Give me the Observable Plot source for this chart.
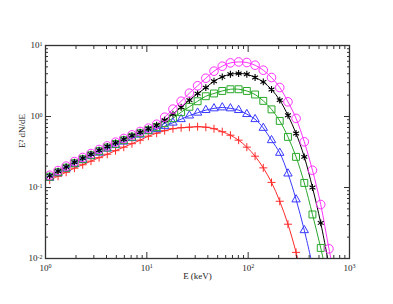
<!DOCTYPE html>
<html><head><meta charset="utf-8">
<script src="https://cdn.jsdelivr.net/npm/d3@7"></script>
<script src="https://cdn.jsdelivr.net/npm/@observablehq/plot@0.6"></script>
<style>body{margin:0;background:#fff} svg{display:block}</style>
</head><body><div id="chart"></div>
<script>
// Energies (keV) at which the spectra are sampled
const energy = [1.10,1.33,1.60,1.93,2.33,2.81,3.38,4.07,4.91,5.92,7.13,8.59,10.35,12.5,15.0,18.1,21.8,26.3,31.7,38.2,46.0,55.5,66.8,80.5,97.0,117,141,170,205,247,297,358,431,520,627,755];

// E^2 dN/dE for the five spectra
const redSeries = [0.127,0.144,0.164,0.187,0.209,0.235,0.263,0.294,0.330,0.370,0.414,0.464,0.528,0.582,0.631,0.673,0.695,0.707,0.718,0.707,0.673,0.611,0.545,0.464,0.37,0.276,0.189,0.118,0.064,0.0304,0.0122,0.0042];
const blueSeries = [0.137,0.159,0.184,0.213,0.243,0.276,0.309,0.352,0.394,0.442,0.495,0.554,0.621,0.662,0.73,0.818,0.916,1.03,1.13,1.23,1.30,1.34,1.30,1.23,1.08,0.916,0.69,0.463,0.307,0.157,0.0678,0.025,0.008];
const greenSeries = [0.142,0.164,0.190,0.220,0.250,0.285,0.325,0.366,0.411,0.464,0.519,0.582,0.641,0.707,0.805,0.946,1.15,1.37,1.64,1.93,2.11,2.29,2.42,2.42,2.29,2.04,1.66,1.26,0.867,0.516,0.27,0.116,0.0417,0.0141,0.0041];
const blackSeries = [0.146,0.170,0.195,0.227,0.259,0.294,0.335,0.378,0.425,0.479,0.537,0.601,0.673,0.754,0.887,1.08,1.35,1.70,2.10,2.55,3.14,3.61,3.94,4.03,3.94,3.54,3.07,2.40,1.70,1.04,0.576,0.27,0.10,0.0317,0.008];
const magentaSeries = [0.149,0.173,0.200,0.232,0.265,0.301,0.343,0.385,0.435,0.490,0.551,0.615,0.685,0.778,0.977,1.27,1.64,2.13,2.71,3.46,4.35,5.11,5.69,5.87,5.76,5.28,4.49,3.54,2.56,1.61,0.94,0.44,0.175,0.0576,0.0137,0.0036];

// Axis ticks
const xMajor = [1, 10, 100, 1000];
const xMajorLabels = ["10^0", "10^1", "10^2", "10^3"];
const xMinor = [2,3,4,5,6,7,8,9,20,30,40,50,60,70,80,90,200,300,400,500,600,700,800,900];
const yMajor = [0.01, 0.1, 1, 10];
const yMajorLabels = ["10^-2", "10^-1", "10^0", "10^1"];
const yMinor = [0.02,0.03,0.04,0.05,0.06,0.07,0.08,0.09,0.2,0.3,0.4,0.5,0.6,0.7,0.8,0.9,2,3,4,5,6,7,8,9];

const xTitle = "E (keV)";
const yTitle = "E\u00B2 dN/dE";

const series = [
  {values: redSeries, color: "#ff2a2a", symbol: "plus", r: 2.7, sw: 1},
  {values: blueSeries, color: "#3a3aff", symbol: "triangle", r: 3.1, sw: 1},
  {values: greenSeries, color: "#2aa82a", symbol: "square", r: 3.9, sw: 1},
  {values: blackSeries, color: "#000000", symbol: "asterisk", r: 3.2, sw: 1.1},
  {values: magentaSeries, color: "#ff30ff", symbol: "circle", r: 4.3, sw: 1}
];

const toRows = s => s.values.map((v, i) => ({E: energy[i], v}));

const marks = [];
for (const s of series) {
  marks.push(Plot.line(toRows(s), {x: "E", y: "v", stroke: s.color, strokeWidth: 1, curve: "catmull-rom", clip: true}));
}
for (const s of series) {
  marks.push(Plot.dot(toRows(s), {x: "E", y: "v", stroke: s.color, fill: "none", symbol: s.symbol, r: s.r, strokeWidth: s.sw, clip: true}));
}

const axisColor = "#333";
const fmtX = d => xMajorLabels[xMajor.indexOf(d)];
const fmtY = d => yMajorLabels[yMajor.indexOf(d)];

marks.push(
  Plot.frame({stroke: axisColor, strokeWidth: 1.3}),
  Plot.axisX(xMajor, {anchor: "bottom", tickSize: -6, fill: "none", stroke: axisColor, label: null}),
  Plot.axisX(xMinor, {anchor: "bottom", tickSize: -3, fill: "none", stroke: axisColor, label: null}),
  Plot.axisX(xMajor, {anchor: "top", tickSize: -6, fill: "none", stroke: axisColor, label: null}),
  Plot.axisX(xMinor, {anchor: "top", tickSize: -3, fill: "none", stroke: axisColor, label: null}),
  Plot.axisY(yMajor, {anchor: "left", tickSize: -6, fill: "none", stroke: axisColor, label: null}),
  Plot.axisY(yMinor, {anchor: "left", tickSize: -3, fill: "none", stroke: axisColor, label: null}),
  Plot.axisY(yMajor, {anchor: "right", tickSize: -6, fill: "none", stroke: axisColor, label: null}),
  Plot.axisY(yMinor, {anchor: "right", tickSize: -3, fill: "none", stroke: axisColor, label: null}),
  Plot.axisX(xMajor, {anchor: "bottom", tickSize: 0, tickPadding: 6, tickFormat: fmtX, label: null, fill: "#222"}),
  Plot.axisY(yMajor, {anchor: "left", tickSize: 0, tickPadding: 3, tickFormat: fmtY, label: null, fill: "#222"}),
  Plot.text([xTitle], {frameAnchor: "bottom", dy: 20, fill: "#222", fontSize: 9}),
  Plot.text([yTitle], {frameAnchor: "left", dx: -23, dy: -4, rotate: -90, fill: "#222", fontSize: 9})
);

const plot = Plot.plot({
  width: 393, height: 304,
  marginLeft: 45, marginRight: 44, marginTop: 45, marginBottom: 46,
  style: {fontFamily: "'Liberation Serif', 'Times New Roman', serif", fontSize: "9px", background: "#fff", color: "#222"},
  x: {type: "log", domain: [1, 1000]},
  y: {type: "log", domain: [0.01, 10]},
  marks
});

// turn "10^k" labels into 10 with a superscript exponent
plot.querySelectorAll("text").forEach(t => {
  const m = /^10\^(.+)$/.exec(t.textContent);
  if (!m) return;
  t.textContent = "10";
  const sup = document.createElementNS("http://www.w3.org/2000/svg", "tspan");
  sup.setAttribute("dy", "-0.45em");
  sup.setAttribute("font-size", "6px");
  sup.textContent = m[1];
  t.appendChild(sup);
});

document.getElementById("chart").appendChild(plot);
</script>
</body></html>
